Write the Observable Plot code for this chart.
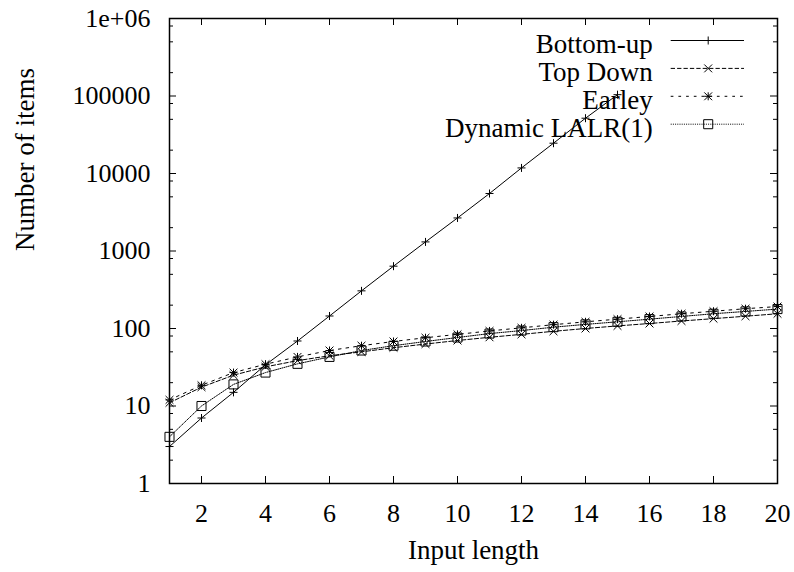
<!DOCTYPE html>
<html>
<head>
<meta charset="utf-8">
<script src="https://cdn.jsdelivr.net/npm/d3@7"></script>
<script src="https://cdn.jsdelivr.net/npm/@observablehq/plot@0.6"></script>
<style>
  html, body { margin: 0; padding: 0; background: #fff; }
  #chart svg { display: block; }
  #chart svg, #chart svg text { font-family: "Liberation Serif", Tinos, "Times New Roman", Times, "DejaVu Serif", serif !important; }
</style>
</head>
<body>
<div id="chart"></div>
<script>
// ---- data ----
const inputLength = [1, 2, 3, 4, 5, 6, 7, 8, 9, 10, 11, 12, 13, 14, 15, 16, 17, 18, 19, 20];
const bottomUpLength = [1, 2, 3, 4, 5, 6, 7, 8, 9, 10, 11, 12, 13, 14, 15];
const bottomUp = [3, 7, 15, 34, 69, 145, 306, 637, 1310, 2670, 5520, 11800, 24600, 51700, 104000];
const topDown = [11, 17.5, 25, 32, 38.5, 44.5, 50, 56.5, 63, 70, 77, 84, 92, 100, 108, 116, 125, 134, 144, 155];
const earley = [12, 18.5, 27, 34.6, 43, 52, 60, 68, 76, 84, 93, 102, 112, 122, 132, 143, 155, 167, 180, 192];
const lalr = [4, 10, 19, 27, 35, 43, 52, 60, 68, 76.5, 86, 94, 104, 113, 122, 132, 143, 155, 166, 178];

const seriesNames = ["Bottom-up", "Top Down", "Earley", "Dynamic LALR(1)"];
const xTicks = [2, 4, 6, 8, 10, 12, 14, 16, 18, 20];
const yMajor = [1, 10, 100, 1000, 10000, 100000, 1000000];
const yTickLabels = ["1", "10", "100", "1000", "10000", "100000", "1e+06"];
const minorMultipliers = [2, 5, 8];
const xTitle = "Input length";
const yTitle = "Number of items";

// ---- layout ----
const W = 794, H = 572;
const mL = 169, mR = 17, mT = 18, mB = 89;
const FW = W - mL - mR, FH = H - mT - mB;
const FONT = "Liberation Serif, Tinos, Times New Roman, Times, DejaVu Serif, serif";
const FS = 26;   // tick labels
const FS2 = 27;  // titles and key

const yMinor = yMajor.slice(0, -1).flatMap(d => minorMultipliers.map(m => d * m));

const toRows = (xs, ys, name) => ys.map((v, i) => ({x: xs[i], y: v, series: name}));
const seriesRows = [
  toRows(bottomUpLength, bottomUp, seriesNames[0]),
  toRows(inputLength, topDown, seriesNames[1]),
  toRows(inputLength, earley, seriesNames[2]),
  toRows(inputLength, lalr, seriesNames[3])
];

const styles = [
  {dash: null, symbols: [{symbol: "plus", r: 2.7}]},
  {dash: "4.3,2.1", symbols: [{symbol: "times", r: 3.65}]},
  {dash: "2.7,5", symbols: [{symbol: "plus", r: 2.7}, {symbol: "times", r: 3.65}]},
  {dash: "1,1.2", symbols: [{symbol: "square", r: 5.1}]}
];

const marks = [];

// ticks (inward, gnuplot style) on all four sides
marks.push(Plot.ruleY(yMajor, {insetRight: FW - 7, stroke: "#000", strokeWidth: 1}));
marks.push(Plot.ruleY(yMajor, {insetLeft: FW - 7, stroke: "#000", strokeWidth: 1}));
marks.push(Plot.ruleY(yMinor, {insetRight: FW - 4, stroke: "#000", strokeWidth: 1}));
marks.push(Plot.ruleY(yMinor, {insetLeft: FW - 4, stroke: "#000", strokeWidth: 1}));
marks.push(Plot.ruleX(xTicks, {insetTop: FH - 7, stroke: "#000", strokeWidth: 1}));
marks.push(Plot.ruleX(xTicks, {insetBottom: FH - 7, stroke: "#000", strokeWidth: 1}));

// tick labels
marks.push(Plot.axisX({ticks: xTicks, tickSize: 0, tickPadding: 20, label: null, fontSize: FS,
  fontFamily: FONT, tickFormat: d => String(d)}));
marks.push(Plot.axisY({ticks: yMajor, tickSize: 0, tickPadding: 19, label: null, fontSize: FS,
  fontFamily: FONT, tickFormat: d => yTickLabels[yMajor.indexOf(d)]}));

// axis titles
marks.push(Plot.text([xTitle], {frameAnchor: "bottom", dy: 75, lineAnchor: "bottom", fontSize: FS2, fontFamily: FONT}));
marks.push(Plot.text([yTitle], {frameAnchor: "left", rotate: -90, dx: -136, lineAnchor: "bottom", fontSize: FS2, fontFamily: FONT}));

// legend (key, top right inside the frame)
seriesNames.forEach((name, i) => {
  const dyLine = 22 + i * 27.9;
  marks.push(Plot.text([name], {frameAnchor: "top-right", dx: -124.7, dy: dyLine + 12.4,
    textAnchor: "end", lineAnchor: "bottom", fontSize: FS2, fontFamily: FONT}));
  marks.push(Plot.ruleY([yMajor[yMajor.length - 1]], {dy: dyLine, insetLeft: 501.7, insetRight: 33,
    stroke: "#000", strokeWidth: 1, strokeDasharray: styles[i].dash}));
  styles[i].symbols.forEach(s => {
    marks.push(Plot.dot([name], {x: inputLength[inputLength.length - 1], y: yMajor[yMajor.length - 1],
      dx: -69.3, dy: dyLine, symbol: s.symbol, r: s.r,
      stroke: "#000", strokeWidth: 1, fill: "none"}));
  });
});

// data lines and markers
seriesRows.forEach((rows, i) => {
  marks.push(Plot.line(rows, {x: "x", y: "y", stroke: "#000", strokeWidth: 1,
    strokeDasharray: styles[i].dash}));
  styles[i].symbols.forEach(s => {
    marks.push(Plot.dot(rows, {x: "x", y: "y", symbol: s.symbol, r: s.r,
      stroke: "#000", strokeWidth: 1, fill: "none"}));
  });
});

// border
marks.push(Plot.frame({stroke: "#000", strokeWidth: 1.5}));

const chart = Plot.plot({
  width: W,
  height: H,
  marginLeft: mL,
  marginRight: mR,
  marginTop: mT,
  marginBottom: mB,
  style: {fontFamily: FONT, fontSize: FS + "px", color: "#000", background: "#fff"},
  x: {domain: [1, 20]},
  y: {type: "log", domain: [1, 1000000]},
  marks
});
document.getElementById("chart").appendChild(chart);
</script>
</body>
</html>
